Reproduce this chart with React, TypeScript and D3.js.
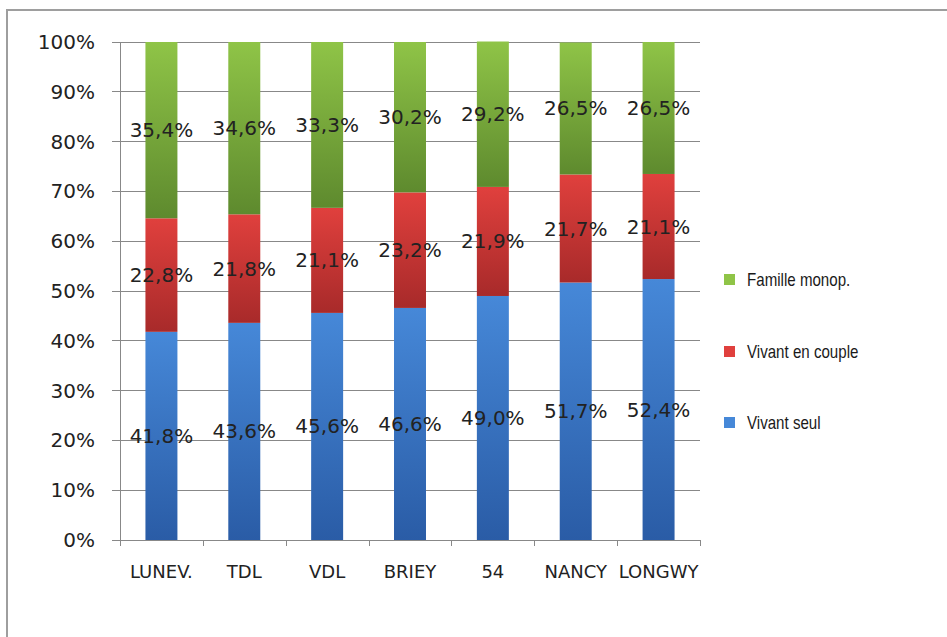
import React, {useEffect, useRef} from 'react';
import * as d3 from 'd3';

const categories = ['LUNEV.', 'TDL', 'VDL', 'BRIEY', '54', 'NANCY', 'LONGWY'];
const seriesNames = ['Vivant seul', 'Vivant en couple', 'Famille monop.'];
const vivantSeul = [41.8, 43.6, 45.6, 46.6, 49.0, 51.7, 52.4];
const vivantCouple = [22.8, 21.8, 21.1, 23.2, 21.9, 21.7, 21.1];
const familleMonop = [35.4, 34.6, 33.3, 30.2, 29.2, 26.5, 26.5];
const yTicks = [0, 0.1, 0.2, 0.3, 0.4, 0.5, 0.6, 0.7, 0.8, 0.9, 1];

// light top -> dark bottom for each series
const colors = [
  ['#4688d8', '#2a5ca6'],
  ['#e0403d', '#a82a2a'],
  ['#8fc447', '#5e8a2e'],
];

export default function App() {
  const svgRef = useRef<SVGSVGElement>(null);

  useEffect(() => {
    const svg = d3.select(svgRef.current);
    svg.selectAll('*').remove();

    const width = 947;
    const height = 637;
    const margin = {t: 42, l: 120, r: 247, b: 97};

    const font = 'DejaVu Sans, sans-serif';

    svg.append('rect')
      .attr('width', width).attr('height', height)
      .attr('fill', 'white');

    // chart border: only left and top edges are inside the picture
    svg.append('rect')
      .attr('x', 6).attr('y', 9)
      .attr('width', width - 6).attr('height', 2)
      .attr('fill', '#9e9e9e');
    svg.append('rect')
      .attr('x', 6).attr('y', 9)
      .attr('width', 2).attr('height', height - 9)
      .attr('fill', '#9e9e9e');

    const defs = svg.append('defs');
    colors.forEach((c, i) => {
      const g = defs.append('linearGradient')
        .attr('id', 'grad' + i)
        .attr('x1', 0).attr('y1', 0).attr('x2', 0).attr('y2', 1);
      g.append('stop').attr('offset', '0%').attr('stop-color', c[0]);
      g.append('stop').attr('offset', '100%').attr('stop-color', c[1]);
    });

    const x = d3.scaleBand()
      .domain(categories)
      .range([margin.l, width - margin.r])
      .paddingInner(0.614)
      .paddingOuter(0.307);

    const y = d3.scaleLinear().domain([0, 1]).range([height - margin.b, margin.t]);

    // gridlines
    svg.append('g').selectAll('line').data(yTicks).enter().append('line')
      .attr('x1', margin.l - 8).attr('x2', width - margin.r)
      .attr('y1', d => y(d)).attr('y2', d => y(d))
      .attr('stroke', '#888').attr('stroke-width', 1)
      .attr('shape-rendering', 'crispEdges');

    // y axis labels
    svg.append('g').selectAll('text').data(yTicks).enter().append('text')
      .attr('x', 95).attr('y', d => y(d))
      .attr('dy', '0.35em')
      .attr('text-anchor', 'end')
      .attr('font-family', font).attr('font-size', 20).attr('fill', '#222')
      .text(d => d3.format('.0%')(d));

    const rows = categories.map((c, i) => ({
      cat: c,
      values: [vivantSeul[i], vivantCouple[i], familleMonop[i]],
    }));
    const stack = d3.stack<any>()
      .keys([0, 1, 2] as any)
      .value((d: any, k: any) => d.values[k] / 100);
    const stacked = stack(rows);

    const series = svg.append('g').selectAll('g').data(stacked).enter().append('g')
      .attr('fill', (d, i) => `url(#grad${i})`);

    series.selectAll('rect').data(d => d).enter().append('rect')
      .attr('x', (d: any) => x(d.data.cat))
      .attr('width', x.bandwidth())
      .attr('y', d => y(d[1]))
      .attr('height', d => y(d[0]) - y(d[1]));

    // y axis line + x axis line
    svg.append('line')
      .attr('x1', margin.l + 0.5).attr('x2', margin.l + 0.5)
      .attr('y1', y(1)).attr('y2', y(0) + 6)
      .attr('stroke', '#888');
    svg.append('line')
      .attr('x1', margin.l).attr('x2', width - margin.r)
      .attr('y1', y(0) + 0.5).attr('y2', y(0) + 0.5)
      .attr('stroke', '#888');

    // x tick marks at category boundaries
    const bounds = categories.map(c => (x(c) as number) - x.step() * x.paddingInner() / 2 + x.step());
    svg.append('g').selectAll('line').data(bounds).enter().append('line')
      .attr('x1', d => Math.round(d) + 0.5).attr('x2', d => Math.round(d) + 0.5)
      .attr('y1', y(0)).attr('y2', y(0) + 6)
      .attr('stroke', '#888');

    // x labels
    svg.append('g').selectAll('text').data(categories).enter().append('text')
      .attr('x', d => (x(d) as number) + x.bandwidth() / 2)
      .attr('y', 578)
      .attr('text-anchor', 'middle')
      .attr('font-family', font).attr('font-size', 18).attr('fill', '#222')
      .text(d => d);

    // value labels
    series.selectAll('text').data(d => d).enter().append('text')
      .attr('x', (d: any) => (x(d.data.cat) as number) + x.bandwidth() / 2)
      .attr('y', d => y((d[0] + d[1]) / 2))
      .attr('dy', '0.35em')
      .attr('text-anchor', 'middle')
      .attr('font-family', font).attr('font-size', 20).attr('fill', '#222')
      .text(d => d3.format('.1f')((d[1] - d[0]) * 100).replace('.', ',') + '%');

    // legend
    const legendY = [423, 352, 280];
    const legend = svg.append('g').selectAll('g').data(seriesNames).enter().append('g')
      .attr('transform', (d, i) => `translate(724, ${legendY[i]})`);
    legend.append('rect')
      .attr('x', 0).attr('y', -6).attr('width', 11).attr('height', 11)
      .attr('fill', (d, i) => colors[i][0]);
    // narrow face: squeeze horizontally
    legend.append('text')
      .attr('transform', 'translate(23,0) scale(0.84,1)')
      .attr('dy', '0.35em')
      .attr('font-family', 'Liberation Sans, sans-serif')
      .attr('font-size', 18).attr('fill', '#1a1a1a')
      .text(d => d);
  }, []);

  return (
    <svg
      ref={svgRef}
      width="947"
      height="637"
      style={{position: 'absolute', left: 0, top: 0}}
    />
  );
}
